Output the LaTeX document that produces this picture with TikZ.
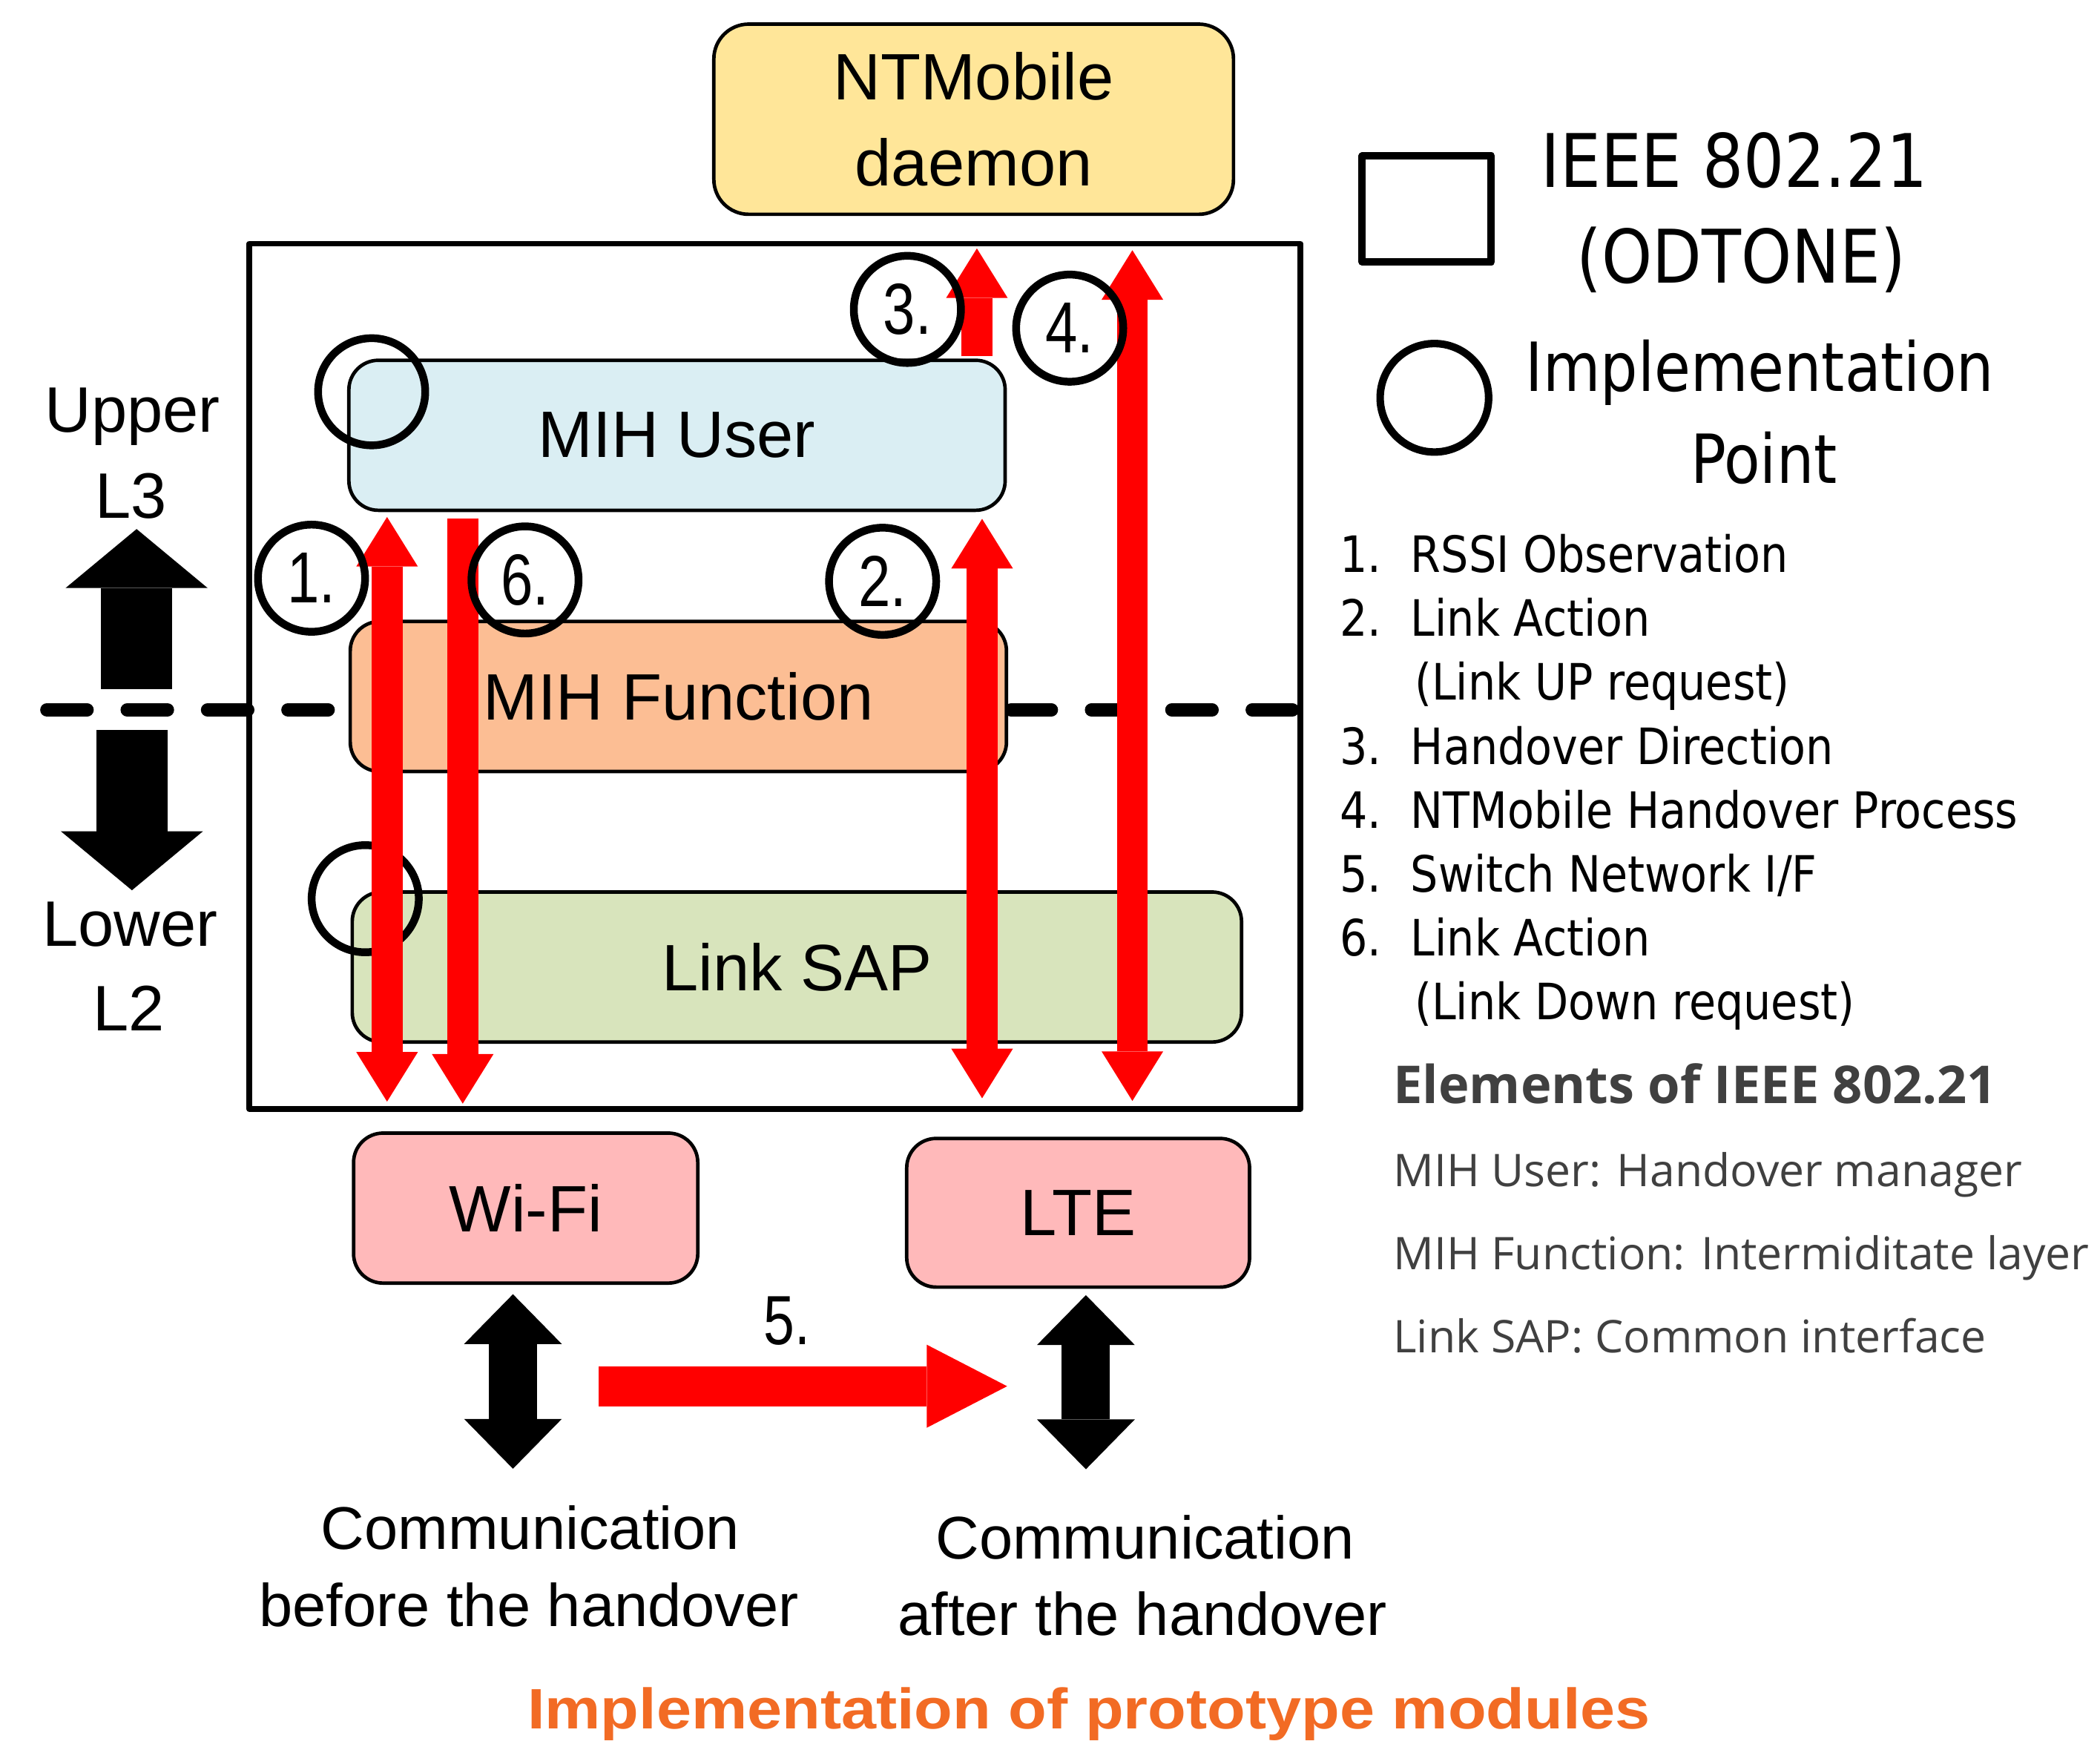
\documentclass[tikz,border=0pt]{standalone}
\usepackage{fontspec}
\setmainfont{Liberation Sans}
\newfontfamily\numfont[FakeStretch=0.8]{Liberation Sans}
\newfontfamily\legfont[FakeStretch=0.87]{DejaVu Sans}
\newfontfamily\elemfont{Open Sans}
\newfontfamily\titlefont[FakeStretch=1.1]{Liberation Sans}
\usetikzlibrary{arrows.meta}
\definecolor{daemoncol}{HTML}{FFE699}
\definecolor{usercol}{HTML}{DAEEF3}
\definecolor{funccol}{HTML}{FCBE94}
\definecolor{sapcol}{HTML}{D8E4BC}
\definecolor{ifcol}{HTML}{FFB9BA}
\definecolor{titlecol}{HTML}{F26B24}
\definecolor{elemgray}{HTML}{404040}
\tikzset{
  redtip/.tip={Triangle[width=23pt, length=18.5pt, line width=0pt]},
  swtip/.tip={Triangle[width=31pt, length=30pt, line width=0pt]},
  comtip/.tip={Triangle[width=36.5pt, length=18.6pt, line width=0pt]},
  laytip/.tip={Triangle[width=53pt, length=22pt, line width=0pt]}
}
\begin{document}
\begin{tikzpicture}[x=0.5pt, y=-0.5pt, line join=round,
  box/.style={draw, line width=1.3pt, rounded corners=11pt, inner sep=0pt, align=center,
    font=\fontsize{24.5pt}{32pt}\selectfont},
  impl/.style={draw, circle, line width=2.9pt, minimum size=40pt, inner sep=0pt,
    font=\numfont\fontsize{27pt}{27pt}\selectfont},
  layer/.style={inner sep=0pt, anchor=base, font=\fontsize{24pt}{24pt}\selectfont},
  comm/.style={inner sep=0pt, anchor=base, font=\fontsize{22.5pt}{22.5pt}\selectfont},
  legbig/.style={inner sep=0pt, anchor=base, font=\legfont\fontsize{27.6pt}{27.6pt}\selectfont},
  legitem/.style={inner sep=0pt, anchor=base west, font=\legfont\fontsize{18.7pt}{18.7pt}\selectfont},
  elem/.style={inner sep=0pt, anchor=base west, text=elemgray, font=\elemfont\fontsize{16.8pt}{16.8pt}\selectfont},
  redarr/.style={draw=red, line width=11.5pt},
  blkarr/.style={draw=black, line width=18pt}]
  \useasboundingbox (0,0) rectangle (1568,1302);
  % border between upper and lower layers
  \draw[line width=5pt, dash pattern=on 15pt off 15pt, line cap=round] (35,530) -- (966,530);
  % IEEE 802.21 frame
  \node[draw, line width=2.1pt, minimum width=392.5pt, minimum height=323pt, inner sep=0pt] (ieee) at (578.5,505) {};
  % modules
  \node[box, fill=daemoncol, minimum width=194pt, minimum height=71pt, rounded corners=13pt] (daemon) at (727,89) {NTMobile\\daemon};
  \node[box, fill=usercol, minimum width=245pt, minimum height=56pt] (muser) at (505.5,325) {MIH User};
  \node[box, fill=funccol, minimum width=245pt, minimum height=56pt] (mfunc) at (506.5,520) {MIH Function};
  \node[box, fill=sapcol, minimum width=332pt, minimum height=56pt] (lsap) at (595,722) {Link SAP};
  \node[box, fill=ifcol, minimum width=128.5pt, minimum height=56pt] (wifi) at (392.5,902) {Wi-Fi};
  \node[box, fill=ifcol, minimum width=128pt, minimum height=55.5pt] (lte) at (805,905.5) {LTE};
  % implementation points
  \node[impl] (ipuser) at (277.5,292.5) {};
  \node[impl] (ipsap) at (272.7,671) {};
  % red arrows
  \coordinate (a1top) at (289,386);   \coordinate (a1bot) at (289,822.5);
  \coordinate (a6top) at (345.5,387); \coordinate (a6bot) at (345.5,824);
  \coordinate (a2top) at (733.3,387.4); \coordinate (a2bot) at (733.3,820);
  \coordinate (a3bot) at (729.4,266); \coordinate (a3top) at (729.4,185.5);
  \coordinate (a4top) at (845.5,186.8); \coordinate (a4bot) at (845.5,822);
  \draw[redarr, redtip-redtip] (a1top) -- (a1bot);
  \draw[redarr, -redtip] (a6top) -- (a6bot);
  \draw[redarr, redtip-redtip] (a2top) -- (a2bot);
  \draw[redarr, -redtip] (a3bot) -- (a3top);
  \draw[redarr, redtip-redtip] (a4top) -- (a4bot);
  % numbered steps
  \node[impl] (s1) at (232.6,431.7) {1.};
  \node[impl] (s6) at (392,433) {6.};
  \node[impl] (s2) at (659,434) {2.};
  \node[impl] (s3) at (677.5,231) {3.};
  \node[impl] (s4) at (798.7,245) {4.};
  % upper / lower layer
  \node[layer] (upper) at (99,322.5) {Upper};
  \node[layer] (l3) at (98,386.7) {L3};
  \node[layer] (lower) at (97,706.5) {Lower};
  \node[layer] (l2) at (96,769.4) {L2};
  \coordinate (upbot) at (102,514.5); \coordinate (uptop) at (102,395);
  \coordinate (dntop) at (98.5,545); \coordinate (dnbot) at (98.5,664.7);
  \draw[line width=26.75pt, -laytip] (upbot) -- (uptop);
  \draw[line width=26.75pt, -laytip] (dntop) -- (dnbot);
  % communication
  \coordinate (cwtop) at (383,966.3); \coordinate (cwbot) at (383,1096.6);
  \coordinate (cltop) at (810.8,967); \coordinate (clbot) at (810.8,1097);
  \draw[blkarr, comtip-comtip] (cwtop) -- (cwbot);
  \draw[blkarr, comtip-comtip] (cltop) -- (clbot);
  \coordinate (swfrom) at (447,1035); \coordinate (swto) at (752,1035);
  \draw[draw=red, line width=15pt, -swtip] (swfrom) -- (swto);
  \node[inner sep=0pt, font=\numfont\fontsize{26pt}{26pt}\selectfont] (s5) at (587.5,986) {5.};
  \node[comm] (cw1) at (396,1157) {Communication};
  \node[comm] (cw2) at (395,1214.3) {before the handover};
  \node[comm] (cl1) at (855,1164) {Communication};
  \node[comm] (cl2) at (853,1221) {after the handover};
  % legend
  \node[draw, line width=2.8pt, minimum width=48.2pt, minimum height=39.5pt, inner sep=0pt] (legbox) at (1065.3,156) {};
  \node[legbig] (leg1) at (1295,140) {IEEE 802.21};
  \node[legbig] (leg2) at (1300,211.2) {(ODTONE)};
  \node[impl, line width=2.8pt, minimum size=40.5pt] (legcirc) at (1071,297) {};
  \node[legbig, font=\legfont\fontsize{25.3pt}{25.3pt}\selectfont] (leg3) at (1314,291.9) {Implementation};
  \node[legbig, font=\legfont\fontsize{25.3pt}{25.3pt}\selectfont] (leg4) at (1317,360.6) {Point};
  \node[legitem] (n1) at (1000,427.4) {1.};
  \node[legitem] (t1) at (1053,427.4) {RSSI Observation};
  \node[legitem] (n2) at (1000,475.1) {2.};
  \node[legitem] (t2) at (1053,475.1) {Link Action};
  \node[legitem] (t2b) at (1056,522.8) {(Link UP request)};
  \node[legitem] (n3) at (1000,570.5) {3.};
  \node[legitem] (t3) at (1053,570.5) {Handover Direction};
  \node[legitem] (n4) at (1000,618.2) {4.};
  \node[legitem] (t4) at (1053,618.2) {NTMobile Handover Process};
  \node[legitem] (n5) at (1000,665.9) {5.};
  \node[legitem] (t5) at (1053,665.9) {Switch Network I/F};
  \node[legitem] (n6) at (1000,713.6) {6.};
  \node[legitem] (t6) at (1053,713.6) {Link Action};
  \node[legitem] (t6b) at (1056,761.3) {(Link Down request)};
  \node[elem, font=\elemfont\bfseries\fontsize{19.5pt}{19.5pt}\selectfont] (elhead) at (1040,823.6) {Elements of IEEE 802.21};
  \node[elem] (el1) at (1040,886) {MIH User: Handover manager};
  \node[elem] (el2) at (1040,948) {MIH Function: Intermiditate layer};
  \node[elem] (el3) at (1040,1010) {Link SAP: Common interface};
  % caption
  \node[inner sep=0pt, anchor=base, text=titlecol, font=\titlefont\bfseries\fontsize{21.3pt}{21.3pt}\selectfont] (title) at (813,1291) {Implementation of prototype modules};
\end{tikzpicture}
\end{document}
